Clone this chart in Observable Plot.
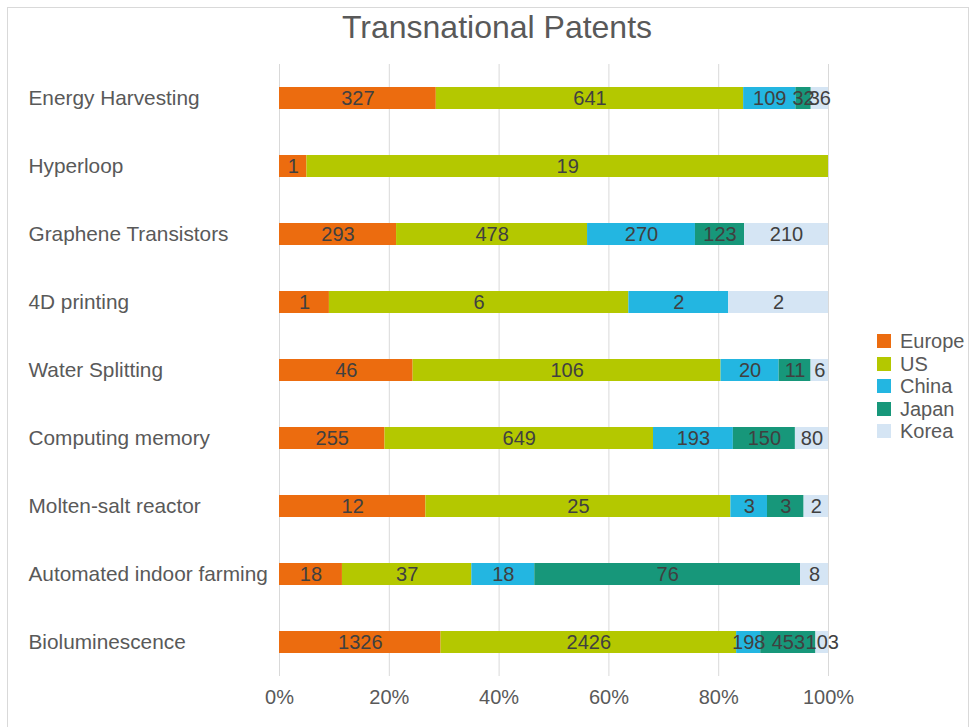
<!DOCTYPE html>
<html>
<head>
<meta charset="utf-8">
<script src="https://cdn.jsdelivr.net/npm/d3@7"></script>
<script src="https://cdn.jsdelivr.net/npm/@observablehq/plot@0.6"></script>
<style>
  html, body { margin: 0; padding: 0; background: #fff; }
  #wrap { position: relative; width: 976px; height: 727px; overflow: hidden; font-family: "Liberation Sans", Arial, sans-serif; }
  #frame { position: absolute; left: 7px; top: 7px; width: 962px; height: 740px; border: 1px solid #d9d9d9; box-sizing: border-box; }
  #title { position: absolute; left: 0; top: 9px; width: 994px; text-align: center; font-size: 32px; color: #595959; }
  #chart { position: absolute; left: 0; top: 0; }
  #legend { position: absolute; left: 877px; top: 330px; font-size: 20px; color: #595959; }
  .item { height: 22.5px; line-height: 22.5px; display: flex; align-items: center; }
  .sw { width: 14px; height: 14px; margin-right: 9px; }
</style>
</head>
<body>
<div id="wrap">
  <div id="frame"></div>
  <div id="chart"></div>
  <div id="title">Transnational Patents</div>
  <div id="legend"></div>
</div>
<script>
const categories = ["Energy Harvesting", "Hyperloop", "Graphene Transistors", "4D printing", "Water Splitting", "Computing memory", "Molten-salt reactor", "Automated indoor farming", "Bioluminescence"];
const countries = ["Europe", "US", "China", "Japan", "Korea"];
const colors = ["#ec6c0f", "#b4c800", "#23b6e1", "#17977a", "#d5e5f4"];
const europe = [327, 1, 293, 1, 46, 255, 12, 18, 1326];
const us     = [641, 19, 478, 6, 106, 649, 25, 37, 2426];
const china  = [109, 0, 270, 2, 20, 193, 3, 18, 198];
const japan  = [32, 0, 123, 0, 11, 150, 3, 76, 453];
const korea  = [36, 0, 210, 2, 6, 80, 2, 8, 103];
const ticks = [0, 0.2, 0.4, 0.6, 0.8, 1];

const series = [europe, us, china, japan, korea];
const data = [];
categories.forEach((c, i) => {
  countries.forEach((k, j) => {
    const v = series[j][i];
    if (v > 0) data.push({name: c, country: k, value: v});
  });
});

const stackOpts = {x: "value", y: "name", z: "country", offset: "normalize", order: countries};

const plot = Plot.plot({
  width: 976,
  height: 727,
  marginLeft: 279,
  marginRight: 148,
  marginTop: 64,
  marginBottom: 51,
  style: {fontFamily: "'Liberation Sans', Arial, sans-serif", fontSize: "20px", background: "transparent"},
  x: {domain: [0, 1], ticks: ticks, tickFormat: d3.format(".0%")},
  y: {domain: categories, paddingInner: 0.68, paddingOuter: 0.34, axis: null},
  color: {domain: countries, range: colors},
  marks: [
    Plot.gridX(ticks, {stroke: "#d9d9d9", strokeOpacity: 1, strokeWidth: 1}),
    Plot.axisX({ticks: ticks, tickFormat: d3.format(".0%"), tickSize: 0, tickPadding: 13, fontSize: 20, fill: "#595959", label: null}),
    Plot.barX(data, Plot.stackX({...stackOpts, fill: "country"})),
    Plot.text(data, Plot.stackX({...stackOpts, text: d => String(d.value), fill: "#404040", fontSize: 20})),
    Plot.text(categories, {y: d => d, text: d => d, frameAnchor: "left", textAnchor: "start", dx: -251, fill: "#595959", fontSize: 20.8})
  ]
});
document.getElementById("chart").appendChild(plot);

const legend = document.getElementById("legend");
countries.forEach((k, j) => {
  const it = document.createElement("div");
  it.className = "item";
  it.innerHTML = `<div class="sw" style="background:${colors[j]}"></div><span>${k}</span>`;
  legend.appendChild(it);
});
</script>
</body>
</html>
